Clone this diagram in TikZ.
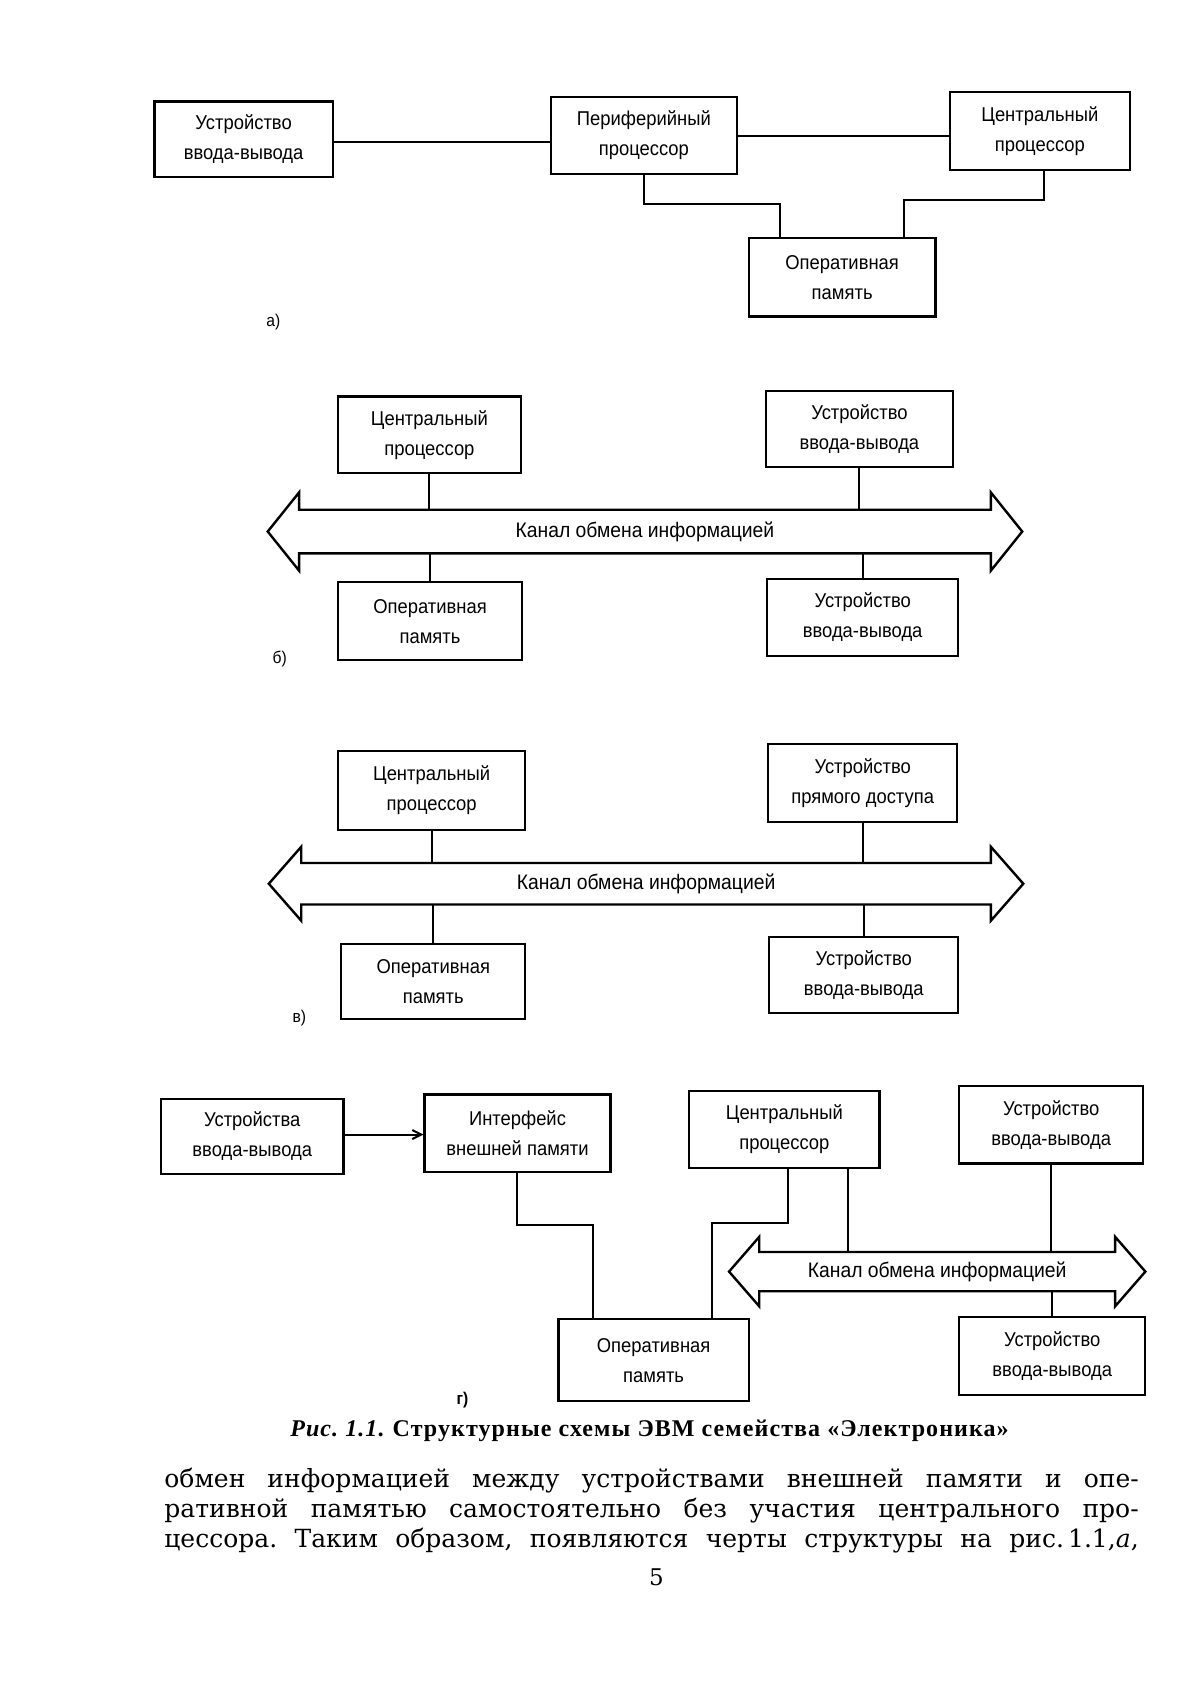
\documentclass[tikz,border=0pt]{standalone}
\usepackage{fontspec}
\setmainfont{Liberation Serif}
\newfontfamily\boxfont[FakeStretch=0.92]{Liberation Sans}
\newfontfamily\bodyfont{DejaVu Serif}
\newfontfamily\capfont[LetterSpace=4.5]{Liberation Serif}
\usetikzlibrary{calc,arrows.meta}
\newcommand\mkbox[6]{\node[ebox, minimum width={(#4-#2)*1.08pt}, minimum height={(#5-#3)*1.08pt}] (#1) at ({(#2+#4)/2},{(#3+#5)/2-2}) {#6}; }
\newcommand\mkbus[7]{%
  \node[inner sep=0pt, minimum width={(#3-#2-2*#7)*1.08pt}, minimum height={(#5-#4)*1.08pt}, font=\boxfont\fontsize{21}{24}\selectfont] (#1) at ({(#2+#3)/2},{(#4+#5)/2}) {Канал обмена информацией};
  \draw[bus] (#1.north west) -- ($(#1.north west)+(0,-#6)$) -- ($(#1.west)+(-#7,0)$) -- ($(#1.south west)+(0,#6)$) -- (#1.south west) -- (#1.south east) -- ($(#1.south east)+(0,#6)$) -- ($(#1.east)+(#7,0)$) -- ($(#1.north east)+(0,-#6)$) -- (#1.north east) -- cycle;}
\begin{document}
\frenchspacing
\begin{tikzpicture}[x=1.08pt,y=-1.08pt,
  ebox/.style={draw, line width=2.2pt, inner sep=0pt, align=center, font=\boxfont\fontsize{20}{30}\selectfont},
  conn/.style={line width=2pt},
  bus/.style={line width=2.4pt, line join=miter},
  lbl/.style={font=\boxfont\fontsize{17}{19}\selectfont},
  body/.style={font=\bodyfont\fontsize{25}{30}\selectfont, anchor=base west, inner sep=0pt}]
\useasboundingbox (0,0) rectangle (1111,1568);
\fill[white] (0,0) rectangle (1111,1568);

% ---------- a)
\mkbox{A1}{143}{96}{308}{166}{Устройство\\ввода-вывода}
\mkbox{A2}{510}{92}{682}{163}{Периферийный\\процессор}
\mkbox{A3}{879}{87}{1046}{159}{Центральный\\процессор}
\mkbox{A4}{693}{222}{866}{295}{Оперативная\\память}
\draw[conn] ([yshift=-3pt]A1.east) -- ([yshift=-3pt]A1.east -| A2.west);
\draw[conn] (A2.east) -- (A2.east -| A3.west);
\draw[conn] (A2.south) -- ++(0,27) -| ($(A4.north west)+(30,0)$);
\draw[conn] ([xshift=4pt]A3.south) -- ++(0,27) -| ($(A4.north east)+(-30,0)$);
\node[lbl] (la) at (253,298) {а)};

% ---------- б)
\mkbox{B1}{313}{369}{482}{440}{Центральный\\процессор}
\mkbox{B2}{709}{364}{882}{434}{Устройство\\ввода-вывода}
\mkbus{busB}{248}{946}{472}{512}{16}{29}
\mkbox{B3}{313}{541}{483}{613}{Оперативная\\память}
\mkbox{B4}{710}{538}{887}{609}{Устройство\\ввода-вывода}
\draw[conn] (B1.south) -- (B1.south |- busB.north);
\draw[conn] (B2.south) -- (B2.south |- busB.north);
\draw[conn] (B3.north) -- (B3.north |- busB.south);
\draw[conn] (B4.north) -- (B4.north |- busB.south);
\node[lbl] (lb) at (259,610) {б)};

% ---------- в)
\mkbox{C1}{313}{697}{486}{770}{Центральный\\процессор}
\mkbox{C2}{711}{691}{886}{763}{Устройство\\прямого доступа}
\mkbus{busC}{249}{947}{799}{837}{15}{30}
\mkbox{C3}{316}{876}{486}{945}{Оперативная\\память}
\mkbox{C4}{712}{869}{887}{940}{Устройство\\ввода-вывода}
\draw[conn] (C1.south) -- (C1.south |- busC.north);
\draw[conn] (C2.south) -- (C2.south |- busC.north);
\draw[conn] (C3.north) -- (C3.north |- busC.south);
\draw[conn] (C4.north) -- (C4.north |- busC.south);
\node[lbl] (lc) at (277,942) {в)};

% ---------- г)
\mkbox{D1}{149}{1019}{318}{1089}{Устройства\\ввода-вывода}
\mkbox{D2}{393}{1015}{565}{1087}{Интерфейс\\внешней памяти}
\mkbox{D3}{638}{1012}{814}{1083}{Центральный\\процессор}
\mkbox{D4}{888}{1007}{1058}{1079}{Устройство\\ввода-вывода}
\mkbox{D5}{517}{1223}{693}{1299}{Оперативная\\память}
\mkbox{D6}{888}{1221}{1060}{1293}{Устройство\\ввода-вывода}
\mkbus{busD}{675}{1060}{1159}{1195}{14}{28}
\draw[conn,-{Straight Barb[length=9pt,width=9pt]}] ([yshift=2pt]D1.east) -- ([yshift=2pt]D1.east -| D2.west);
\draw[conn] (D2.south) -- ++(0,48) -| ($(D5.north west)+(33,0)$);
\draw[conn] ([xshift=4pt]D3.south) -- ++(0,50) -| ($(D5.north west)+(143,0)$);
\draw[conn] ($(D3.south east)+(-30,0)$) coordinate (d3b) -- (d3b |- busD.north);
\draw[conn] (D4.south) -- (D4.south |- busD.north);
\draw[conn] (D6.north) -- (D6.north |- busD.south);
\node[lbl,font=\boxfont\bfseries\fontsize{17}{19}\selectfont] (ld) at (428,1296) {г)};

% ---------- caption and text
\node[font=\capfont\bfseries\fontsize{24}{27}\selectfont, anchor=base west, inner sep=0pt] (cap) at (268.5,1330) {\textit{Рис. 1.1.} Структурные схемы ЭВМ семейства «Электроника»};
\node[body] (t1) at (152,1377) {\makebox[974pt][s]{обмен информацией между устройствами внешней памяти и опе-}};
\node[body] (t2) at (152,1404.5) {\makebox[974pt][s]{ративной памятью самостоятельно без участия центрального про-}};
\node[body] (t3) at (152,1432) {\makebox[974pt][s]{цессора. Таким образом, появляются черты структуры на рис.\,1.1,\textit{а},}};
\node[font=\bodyfont\fontsize{23}{27}\selectfont, anchor=base, inner sep=0pt] (pg) at (607.5,1467.5) {5};
\end{tikzpicture}
\end{document}
